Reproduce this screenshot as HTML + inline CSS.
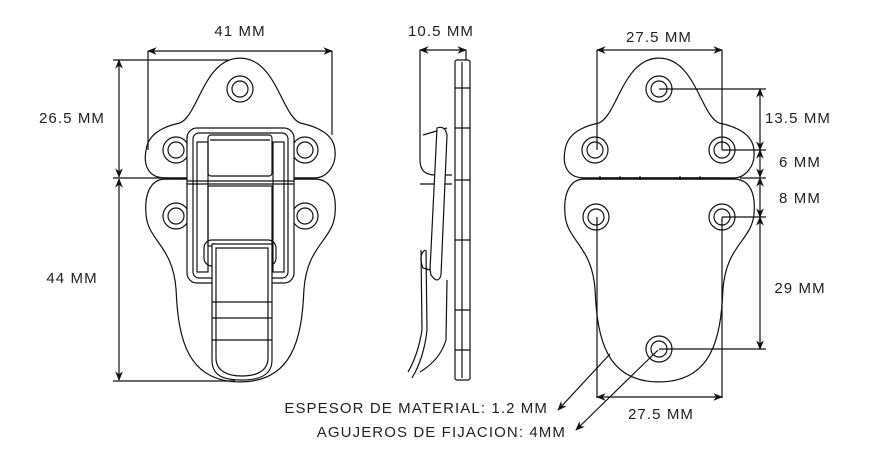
<!DOCTYPE html>
<html><head><meta charset="utf-8"><style>
html,body{margin:0;padding:0;background:#fff;}
svg{display:block}
text{font-family:"Liberation Sans",sans-serif;font-size:15px;letter-spacing:1.1px;fill:#222;}
</style></head><body>
<svg width="872" height="466" viewBox="0 0 872 466" xmlns="http://www.w3.org/2000/svg">
<defs>
<marker id="a" viewBox="0 0 10 10" refX="9" refY="5" markerWidth="8" markerHeight="8" orient="auto-start-reverse"><path d="M0,1 L10,5 L0,9 L3,5 Z" fill="#111"/></marker>
<g id="up">
<path d="M165,176 C150,176 145,165 148,150 C150,135 165,128 180,125 C200,118 205,60 240,60 C275,60 280,118 300,125 C315,128 332,135 333,150 C335,165 325,176 315,176 Z" fill="none" stroke="#111" stroke-width="5"/>
<path d="M165,176 C150,176 145,165 148,150 C150,135 165,128 180,125 C200,118 205,60 240,60 C275,60 280,118 300,125 C315,128 332,135 333,150 C335,165 325,176 315,176 Z" fill="#fff" stroke="#fff" stroke-width="2.6"/>
</g>
<g id="lo">
<path d="M165,181 L315,181 C330,181 335,195 333,215 C330,240 305,245 302,290 C300,340 290,380 240,380 C190,380 180,340 178,290 C175,245 150,240 148,215 C146,195 152,181 165,181 Z" fill="none" stroke="#111" stroke-width="5"/>
<path d="M165,181 L315,181 C330,181 335,195 333,215 C330,240 305,245 302,290 C300,340 290,380 240,380 C190,380 180,340 178,290 C175,245 150,240 148,215 C146,195 152,181 165,181 Z" fill="#fff" stroke="#fff" stroke-width="2.6"/>
</g>
<g id="h"><circle r="13" fill="#fff" stroke="#111" stroke-width="1.2"/><circle r="8" fill="none" stroke="#111" stroke-width="1.2"/></g>
</defs>
<g fill="none" stroke="#111" stroke-width="1.2">
<use href="#up"/><use href="#lo"/>
<use href="#h" x="240" y="89"/><use href="#h" x="176" y="150"/><use href="#h" x="305" y="150"/>
<use href="#h" x="176" y="216"/><use href="#h" x="305" y="216"/>
<rect x="187" y="128" width="107" height="155" rx="10" fill="#fff"/>
<rect x="193" y="133" width="95" height="145" rx="6"/>
<rect x="197" y="142" width="11" height="130"/><rect x="273" y="142" width="11" height="130"/>
<rect x="208" y="135" width="64" height="41" rx="3"/><line x1="210" y1="140" x2="270" y2="140"/>
<line x1="187" y1="181" x2="294" y2="181"/><line x1="187" y1="184" x2="294" y2="184"/>
<rect x="208" y="186" width="64" height="60"/>
<rect x="204" y="240" width="72" height="26" rx="8"/>
<path d="M212,244 L272,244 L272,360 C272,375 260,380 242,380 C222,380 212,375 212,360 Z" fill="#fff"/>
<path d="M216,248 L268,248 L268,358 C268,370 258,376 242,376 C226,376 216,370 216,358 Z"/>
<line x1="212" y1="302" x2="272" y2="302"/><line x1="212" y1="318" x2="272" y2="318"/><line x1="212" y1="340" x2="272" y2="340"/>
<line x1="148" y1="51" x2="332" y2="51" marker-start="url(#a)" marker-end="url(#a)"/>
<line x1="148" y1="51" x2="148" y2="150"/><line x1="332" y1="51" x2="332" y2="135"/>
<line x1="119" y1="60" x2="119" y2="177" marker-start="url(#a)" marker-end="url(#a)"/>
<line x1="119" y1="179" x2="119" y2="380" marker-start="url(#a)" marker-end="url(#a)"/>
<line x1="113" y1="60" x2="228" y2="60"/><line x1="113" y1="178" x2="170" y2="178"/><line x1="113" y1="381" x2="235" y2="381"/>
<rect x="455" y="60" width="15" height="320" rx="2" fill="#fff"/>
<line x1="462" y1="62" x2="462" y2="378"/>
<path d="M455,88 h15 M455,128 h15 M455,180 h15 M455,240 h15 M455,310 h15 M455,350 h15"/>
<path d="M420,50 L420,160 Q420,175 435,175 L452,175"/>
<path d="M423,135 L447,128"/><path d="M420,184 L452,184"/>
<path d="M437,128 Q445,125 447,135 L441,275 Q438,285 431,275 L430,270 Z" fill="#fff"/>
<path d="M425,250 Q418,255 423,268 L430,270"/>
<path d="M421,250 L422,330 Q418,355 408,372 M426,250 L427,330 Q424,358 412,378 M447,280 L446,340 Q440,360 420,372"/>
<line x1="420" y1="50" x2="466" y2="50" marker-start="url(#a)" marker-end="url(#a)"/>
<line x1="466" y1="50" x2="466" y2="60"/>
<g transform="translate(419,0)"><use href="#up"/><use href="#lo"/></g>
<path d="M596,178 h125 M600,176 v4 M620,176 v4 M640,176 v4 M680,176 v4 M700,176 v4"/>
<use href="#h" x="659" y="89"/><use href="#h" x="595" y="150"/><use href="#h" x="722" y="150"/>
<use href="#h" x="596" y="217"/><use href="#h" x="722" y="217"/><use href="#h" x="659" y="349"/>
<line x1="597" y1="50" x2="722" y2="50" marker-start="url(#a)" marker-end="url(#a)"/>
<line x1="597" y1="50" x2="597" y2="150"/><line x1="722" y1="50" x2="722" y2="150"/>
<line x1="659" y1="89" x2="766" y2="89"/><line x1="722" y1="150" x2="766" y2="150"/>
<line x1="740" y1="178" x2="766" y2="178"/><line x1="722" y1="217" x2="766" y2="217"/><line x1="659" y1="349" x2="766" y2="349"/>
<line x1="760" y1="89" x2="760" y2="150" marker-start="url(#a)" marker-end="url(#a)"/>
<line x1="760" y1="150" x2="760" y2="177" marker-start="url(#a)" marker-end="url(#a)"/>
<line x1="760" y1="178" x2="760" y2="217" marker-start="url(#a)" marker-end="url(#a)"/>
<line x1="760" y1="217" x2="760" y2="349" marker-start="url(#a)" marker-end="url(#a)"/>
<line x1="597" y1="217" x2="597" y2="398"/><line x1="722" y1="217" x2="722" y2="398"/>
<line x1="597" y1="397" x2="722" y2="397" marker-start="url(#a)" marker-end="url(#a)"/>
<line x1="610" y1="354" x2="558" y2="410" marker-end="url(#a)"/>
<line x1="658" y1="350" x2="576" y2="430" marker-end="url(#a)"/>
</g>
<text x="240" y="36" text-anchor="middle">41 MM</text>
<text x="72" y="123" text-anchor="middle">26.5 MM</text>
<text x="72" y="283" text-anchor="middle">44 MM</text>
<text x="441" y="36" text-anchor="middle">10.5 MM</text>
<text x="659" y="42" text-anchor="middle">27.5 MM</text>
<text x="798" y="123" text-anchor="middle">13.5 MM</text>
<text x="800" y="167" text-anchor="middle">6 MM</text>
<text x="800" y="203" text-anchor="middle">8 MM</text>
<text x="800" y="293" text-anchor="middle">29 MM</text>
<text x="661" y="419" text-anchor="middle">27.5 MM</text>
<text x="548" y="413" text-anchor="end">ESPESOR DE MATERIAL: 1.2 MM</text>
<text x="566" y="437" text-anchor="end">AGUJEROS DE FIJACION: 4MM</text>
</svg>
</body></html>
